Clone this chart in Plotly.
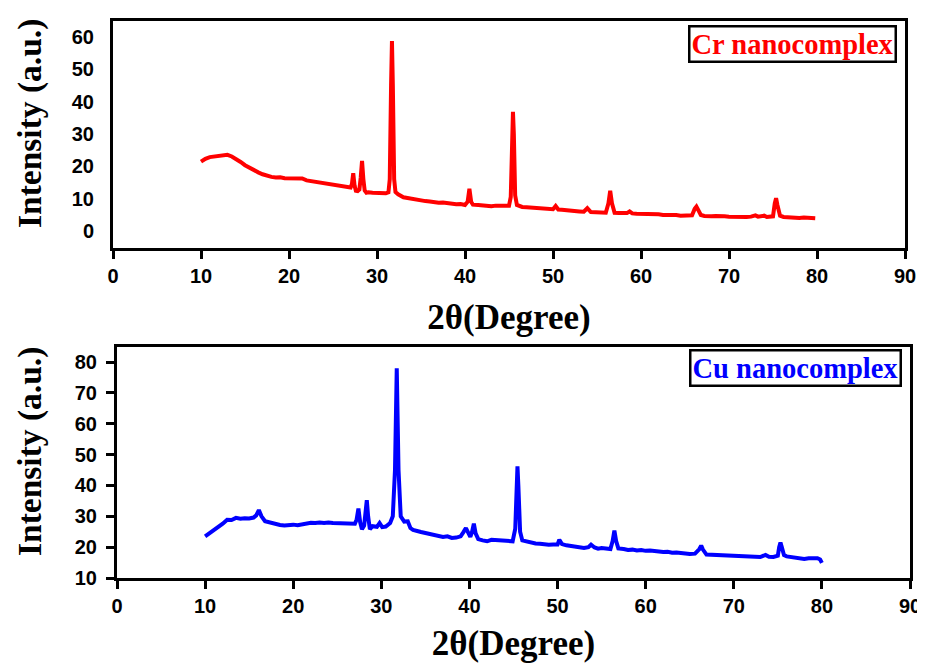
import plotly.graph_objects as go

# ---- Data ----
cr_x = [10.0, 10.5, 11.0, 11.5, 12.0, 12.5, 13.0, 13.5, 14.0, 14.5, 15.0, 15.5, 16.0, 16.5, 17.0, 17.5,
        18.0, 18.5, 19.0, 19.5, 20.0, 20.5, 21.0, 21.5, 22.0, 22.5, 23.0, 23.5, 24.0, 24.5, 25.0, 25.5,
        26.0, 26.5, 27.0, 27.15, 27.3, 27.45, 27.6, 27.8, 28.0, 28.15, 28.3, 28.45, 28.6, 28.8, 29.0,
        29.5, 30.0, 30.5, 31.0, 31.3, 31.45, 31.6, 31.7, 31.8, 31.95, 32.1, 32.4, 33.0, 33.5, 34.0,
        34.5, 35.0, 35.5, 36.0, 36.5, 37.0, 37.5, 38.0, 38.5, 39.0, 39.5, 40.0, 40.3, 40.5, 40.7, 40.9,
        41.5, 42.0, 42.5, 43.0, 43.5, 44.0, 44.5, 45.0, 45.2, 45.35, 45.45, 45.55, 45.7, 45.9, 46.5,
        47.0, 47.5, 48.0, 48.5, 49.0, 49.5, 50.0, 50.3, 50.6, 51.0, 51.5, 52.0, 52.5, 53.0, 53.5, 53.9,
        54.3, 54.7, 55.0, 55.5, 56.0, 56.3, 56.5, 56.7, 57.0, 57.5, 58.0, 58.4, 58.7, 59.0, 59.5, 60.0,
        60.5, 61.0, 61.5, 62.0, 62.5, 63.0, 63.5, 64.0, 64.5, 65.0, 65.5, 65.8, 66.1, 66.3, 66.5, 66.8,
        67.2, 67.6, 68.0, 68.5, 69.0, 69.5, 70.0, 70.5, 71.0, 71.5, 72.0, 72.5, 73.0, 73.3, 73.7, 74.0,
        74.3, 74.7, 75.0, 75.2, 75.35, 75.5, 75.8, 76.2, 76.6, 77.0, 77.5, 78.0, 78.5, 79.0, 79.4, 79.8]
cr_y = [21.4, 22.3, 22.8, 23.0, 23.4, 23.6, 23.5, 23.0, 22.3, 21.3, 20.3, 19.5, 18.7, 18.1, 17.5, 17.0,
        16.7, 16.5, 16.6, 16.3, 16.3, 16.1, 16.0, 16.2, 15.6, 15.4, 15.2, 14.9, 14.7, 14.6, 14.3, 14.1,
        13.9, 13.7, 13.4, 14.5, 17.8, 14.0, 12.4, 12.3, 12.8, 16.5, 21.6, 16.0, 12.5, 11.8, 11.9,
        11.8, 11.7, 11.9, 11.6, 11.9, 16.0, 45.0, 58.7, 45.0, 16.0, 12.0, 11.3, 10.4, 10.1, 9.9,
        9.6, 9.5, 9.2, 9.1, 8.8, 8.7, 8.8, 8.5, 8.4, 8.2, 8.3, 8.0, 9.0, 13.0, 9.0, 8.1,
        8.0, 7.8, 7.9, 7.6, 7.8, 7.7, 7.6, 7.8, 10.5, 30.0, 36.8, 30.0, 11.0, 8.0, 7.4,
        7.3, 7.2, 7.0, 7.0, 6.8, 6.9, 6.7, 7.7, 6.6, 6.5, 6.3, 6.2, 6.2, 6.0, 5.9, 7.0,
        5.8, 5.7, 5.8, 5.6, 5.6, 8.5, 12.4, 8.5, 5.6, 5.5, 5.4, 5.5, 6.0, 5.4, 5.3, 5.3,
        5.1, 5.2, 5.0, 5.1, 4.9, 5.0, 4.9, 4.9, 4.7, 4.8, 4.7, 4.8, 6.8, 7.5, 6.5, 4.9,
        4.6, 4.7, 4.5, 4.6, 4.4, 4.5, 4.4, 4.3, 4.4, 4.3, 4.3, 4.4, 4.8, 4.4, 4.5, 4.7,
        4.3, 4.4, 4.5, 8.5, 10.1, 8.0, 4.7, 4.3, 4.2, 4.1, 4.2, 4.0, 4.1, 4.0, 3.9, 3.9]

cu_x = [10.0, 10.5, 11.0, 11.5, 12.0, 12.5, 13.0, 13.5, 14.0, 14.5, 15.0, 15.5, 15.8, 16.1, 16.4, 16.8,
        17.5, 18.0, 18.5, 19.0, 19.5, 20.0, 20.5, 21.0, 21.5, 22.0, 22.5, 23.0, 23.5, 24.0, 24.5, 25.0,
        25.5, 26.0, 26.5, 27.0, 27.2, 27.4, 27.6, 27.8, 28.05, 28.2, 28.35, 28.5, 28.7, 29.0, 29.5,
        29.8, 30.1, 30.5, 31.0, 31.3, 31.55, 31.75, 31.95, 32.2, 32.6, 33.0, 33.3, 33.6, 34.0, 34.5,
        35.0, 35.5, 36.0, 36.5, 37.0, 37.5, 38.0, 38.5, 39.0, 39.3, 39.6, 39.9, 40.1, 40.3, 40.5, 40.7,
        41.0, 41.5, 42.0, 42.5, 43.0, 43.5, 44.0, 44.5, 44.9, 45.2, 45.35, 45.45, 45.55, 45.75, 46.0,
        46.5, 47.0, 47.5, 48.0, 48.5, 49.0, 49.5, 50.0, 50.2, 50.5, 51.0, 51.5, 52.0, 52.5, 53.0, 53.5,
        53.8, 54.2, 54.6, 55.0, 55.5, 56.0, 56.25, 56.45, 56.65, 56.9, 57.5, 58.0, 58.5, 59.0, 59.5,
        60.0, 60.5, 61.0, 61.5, 62.0, 62.5, 63.0, 63.5, 64.0, 64.5, 65.0, 65.6, 66.1, 66.3, 66.5, 66.9,
        67.5, 68.0, 68.5, 69.0, 69.5, 70.0, 70.5, 71.0, 71.5, 72.0, 72.5, 73.0, 73.6, 74.0, 74.5, 75.0,
        75.15, 75.3, 75.45, 75.7, 76.0, 76.5, 77.0, 77.5, 78.0, 78.5, 79.0, 79.5, 79.8, 80.0]
cu_y = [23.5, 24.5, 25.4, 26.5, 27.6, 28.9, 28.8, 29.5, 29.2, 29.4, 29.3, 29.6, 30.3, 32.0, 30.0, 28.4,
        27.8, 27.7, 27.2, 27.0, 27.2, 27.3, 27.1, 27.4, 27.6, 27.9, 27.8, 28.0, 27.8, 28.0, 27.8, 27.8,
        27.6, 27.8, 27.5, 27.6, 29.0, 32.5, 28.0, 25.8, 27.0, 30.0, 35.2, 30.0, 25.8, 26.8, 26.6,
        27.8, 26.5, 26.7, 27.8, 30.0, 45.0, 78.0, 45.0, 30.0, 28.3, 28.4, 26.2, 25.6, 25.2, 24.9,
        24.6, 24.2, 23.9, 23.6, 23.3, 23.5, 23.0, 23.1, 23.5, 24.8, 26.2, 24.5, 23.3, 25.0, 27.6, 24.5,
        22.6, 22.2, 21.9, 22.4, 22.3, 22.5, 22.3, 22.1, 21.9, 26.0, 40.0, 46.2, 40.0, 25.0, 22.2,
        21.8, 21.3, 21.2, 21.1, 20.8, 20.8, 20.9, 20.9, 22.4, 21.0, 20.6, 20.4, 20.1, 20.0, 19.7, 20.0,
        20.8, 19.9, 19.5, 19.7, 19.4, 19.4, 22.0, 25.4, 22.0, 19.6, 19.4, 19.1, 19.2, 18.9, 19.1,
        18.8, 18.9, 18.7, 18.7, 18.4, 18.5, 18.2, 18.3, 18.1, 18.1, 17.8, 17.9, 19.4, 20.5, 19.2, 17.6,
        17.5, 17.6, 17.4, 17.3, 17.2, 17.2, 17.0, 17.1, 16.9, 16.9, 16.9, 16.8, 17.5, 16.9, 16.8, 17.2,
        20.0, 21.5, 20.0, 17.4, 17.0, 16.8, 16.7, 16.5, 16.2, 16.4, 16.3, 16.4, 16.0, 14.9]

x_ticks = [0, 10, 20, 30, 40, 50, 60, 70, 80, 90]
cr_yticks = [0, 10, 20, 30, 40, 50, 60]
cu_yticks = [10, 20, 30, 40, 50, 60, 70, 80]

x_title = "2θ(Degree)"
y_title = "Intensity (a.u.)"
cr_label = "Cr nanocomplex"
cu_label = "Cu nanocomplex"
cr_color = "#ff0000"
cu_color = "#0000ff"

# page has an 8px body margin; figure offset accordingly inside the 925x665 window
PAD = 8
W, H = 925 - PAD, 665

def px_x(p):
    return (p - PAD) / W

def px_y(p):
    return 1 - (p - PAD) / H

fig = go.Figure()
fig.add_trace(go.Scatter(x=cr_x, y=cr_y, mode="lines", line=dict(color=cr_color, width=4),
                         xaxis="x", yaxis="y", name=cr_label, showlegend=False))
fig.add_trace(go.Scatter(x=cu_x, y=cu_y, mode="lines", line=dict(color=cu_color, width=4),
                         xaxis="x2", yaxis="y2", name=cu_label, showlegend=False))

serif = "Liberation Serif, Times New Roman, serif"
sans = "Liberation Sans, Arial, sans-serif"
tickfont = dict(family=sans, size=20, color="black", weight="bold")
titlefont = dict(family=serif, size=35, color="black", weight="bold")
ytitlefont = dict(family=serif, size=33.5, color="black", weight="bold")

common_x = dict(range=[0, 90], tickvals=x_ticks, showline=True, linewidth=3, linecolor="black",
                mirror=True, ticks="outside", ticklen=8, tickwidth=2.5, tickcolor="black",
                showgrid=False, zeroline=False, tickfont=tickfont, automargin=False)
common_y = dict(showline=True, linewidth=3, linecolor="black", mirror=True, showgrid=False,
                zeroline=False, tickfont=tickfont, automargin=False)

fig.update_layout(
    width=W, height=H,
    margin=dict(l=0, r=0, t=0, b=0),
    paper_bgcolor="white", plot_bgcolor="white",
    xaxis=dict(domain=[px_x(113), px_x(905)], anchor="y",
               title=dict(text=x_title, font=titlefont, standoff=19), **common_x),
    yaxis=dict(domain=[px_y(248), px_y(21)], anchor="x", range=[-5.3, 64.9], tickvals=cr_yticks,
               ticks="", ticklabelstandoff=12, **common_y),
    xaxis2=dict(domain=[px_x(117), px_x(910)], anchor="y2",
                title=dict(text=x_title, font=titlefont, standoff=15), **common_x),
    yaxis2=dict(domain=[px_y(578), px_y(347)], anchor="x2", range=[10, 84.9], tickvals=cu_yticks,
                ticks="outside", ticklen=8, tickwidth=2.5, tickcolor="black", ticklabelstandoff=5,
                **common_y),
    annotations=[
        dict(text=y_title, xref="paper", yref="paper", x=px_x(30), y=px_y(124),
             xanchor="center", yanchor="middle", textangle=-90, showarrow=False, font=ytitlefont),
        dict(text=y_title, xref="paper", yref="paper", x=px_x(30), y=px_y(452),
             xanchor="center", yanchor="middle", textangle=-90, showarrow=False, font=ytitlefont),
        dict(text=cr_label, xref="paper", yref="paper", x=px_x(897), y=px_y(25),
             xanchor="right", yanchor="top", showarrow=False,
             font=dict(family=serif, size=28.5, color=cr_color, weight="bold"),
             bordercolor="black", borderwidth=2.5, borderpad=1, bgcolor="white"),
        dict(text=cu_label, xref="paper", yref="paper", x=px_x(902), y=px_y(349),
             xanchor="right", yanchor="top", showarrow=False,
             font=dict(family=serif, size=28.5, color=cu_color, weight="bold"),
             bordercolor="black", borderwidth=2.5, borderpad=1, bgcolor="white"),
    ],
)

fig.write_html("out.html")
